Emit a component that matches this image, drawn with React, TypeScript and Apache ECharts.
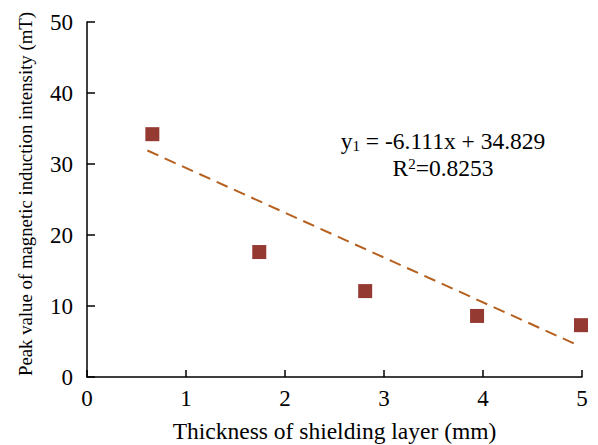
import React, { useEffect, useRef } from "react";
import * as echarts from "echarts";

const thickness = [0.66, 1.74, 2.81, 3.94, 4.99];
const peakValue = [34.2, 17.6, 12.1, 8.6, 7.3];
const trendX = [0.61, 4.97];
const trendY = [31.9, 4.4];
const xTicks = [0, 1, 2, 3, 4, 5];
const yTicks = [0, 10, 20, 30, 40, 50];

const FONT = "Liberation Serif";

export default function App() {
  const ref = useRef<HTMLDivElement>(null);
  useEffect(() => {
    document.body.style.margin = "0";
    if (!ref.current) return;
    const chart = echarts.init(ref.current, null, { renderer: "svg" });
    const trend = trendX.map((x, i) => [x, trendY[i]]);
    chart.setOption({
      animation: false,
      backgroundColor: "#ffffff",
      grid: { left: 87, right: 16, top: 22, bottom: 68, containLabel: false, outerBoundsMode: "none" },
      xAxis: {
        type: "value",
        min: xTicks[0],
        max: xTicks[xTicks.length - 1],
        interval: 1,
        name: "Thickness of shielding layer (mm)",
        nameLocation: "middle",
        nameGap: 42,
        nameTextStyle: { fontFamily: FONT, fontSize: 23.5, color: "#000" },
        axisLine: { show: true, lineStyle: { color: "#000", width: 1.5 } },
        axisTick: { show: true, inside: true, length: 7, lineStyle: { color: "#000", width: 1.5 } },
        axisLabel: { fontFamily: FONT, fontSize: 23, color: "#000", margin: 10 },
        splitLine: { show: false },
      },
      yAxis: {
        type: "value",
        min: yTicks[0],
        max: yTicks[yTicks.length - 1],
        interval: 10,
        axisLine: { show: true, lineStyle: { color: "#000", width: 1.5 } },
        axisTick: { show: true, inside: true, length: 8, lineStyle: { color: "#000", width: 1.5 } },
        axisLabel: { fontFamily: FONT, fontSize: 23, color: "#000", margin: 14 },
        splitLine: { show: false },
      },
      graphic: [
        {
          type: "text",
          x: 25,
          y: 194,
          rotation: Math.PI / 2,
          style: {
            text: "Peak value of magnetic induction intensity (mT)",
            fontFamily: FONT,
            fontSize: 18.8,
            fill: "#000",
            align: "center",
            verticalAlign: "middle",
          },
        },
        {
          type: "text",
          x: 443,
          y: 141,
          style: {
            text: "y{sub|1} = -6.111x + 34.829",
            fontFamily: FONT,
            fontSize: 23.5,
            fill: "#000",
            align: "center",
            verticalAlign: "middle",
            rich: {
              sub: { fontFamily: FONT, fontSize: 15, fill: "#000", verticalAlign: "bottom", padding: [9, 0, 0, 0] },
            },
          },
        },
        {
          type: "text",
          x: 443,
          y: 168,
          style: {
            text: "R{sup|2}=0.8253",
            fontFamily: FONT,
            fontSize: 23.5,
            fill: "#000",
            align: "center",
            verticalAlign: "middle",
            rich: {
              sup: { fontFamily: FONT, fontSize: 15, fill: "#000", verticalAlign: "top", padding: [0, 0, 9, 0] },
            },
          },
        },
      ],
      series: [
        {
          type: "line",
          data: trend,
          symbol: "none",
          lineStyle: { color: "#b5601f", width: 2, type: [12, 7] },
          z: 2,
        },
        {
          type: "scatter",
          data: thickness.map((x, i) => [x, peakValue[i]]),
          symbol: "rect",
          symbolSize: 14,
          itemStyle: { color: "#943a32", opacity: 1 },
          z: 3,
        },
      ],
    });
    return () => chart.dispose();
  }, []);
  return <div ref={ref} style={{ width: 598, height: 445 }} />;
}
